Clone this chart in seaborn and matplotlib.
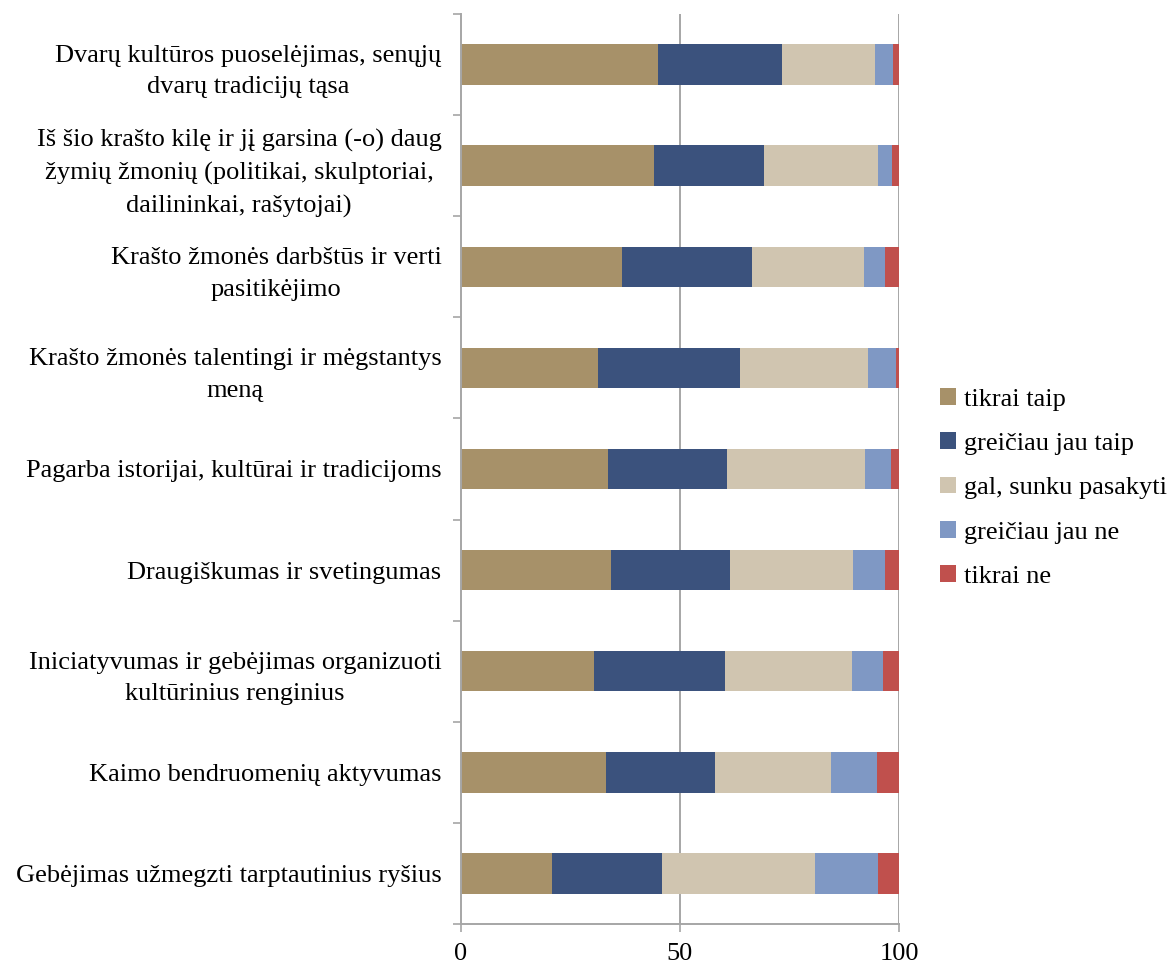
import matplotlib
matplotlib.use("Agg")
import matplotlib.pyplot as plt
from matplotlib.patches import Patch
from matplotlib.ticker import FixedLocator
import numpy as np
import pandas as pd
import seaborn as sns

categories = [
    "Dvarų kultūros puoselėjimas, senųjų\ndvarų tradicijų tąsa",
    "Iš šio krašto kilę ir jį garsina (-o) daug\nžymių žmonių (politikai, skulptoriai,\ndailininkai, rašytojai)",
    "Krašto žmonės darbštūs ir verti\npasitikėjimo",
    "Krašto žmonės talentingi ir mėgstantys\nmeną",
    "Pagarba istorijai, kultūrai ir tradicijoms",
    "Draugiškumas ir svetingumas",
    "Iniciatyvumas ir gebėjimas organizuoti\nkultūrinius renginius",
    "Kaimo bendruomenių aktyvumas",
    "Gebėjimas užmegzti tarptautinius ryšius",
]
series_names = ["tikrai taip", "greičiau jau taip", "gal, sunku pasakyti",
                "greičiau jau ne", "tikrai ne"]
tikrai_taip = [45.0, 44.1, 36.8, 31.3, 33.6, 34.2, 30.4, 33.1, 20.7]
greiciau_taip = [28.2, 25.0, 29.7, 32.3, 27.1, 27.3, 29.9, 24.9, 25.3]
gal = [21.4, 26.2, 25.5, 29.3, 31.6, 28.1, 29.0, 26.4, 34.9]
greiciau_ne = [4.1, 3.2, 4.9, 6.4, 5.9, 7.1, 7.1, 10.6, 14.4]
tikrai_ne = [1.3, 1.5, 3.1, 0.7, 1.8, 3.3, 3.6, 5.2, 4.9]
colors = ["#A79169", "#3B527D", "#D0C5B0", "#7F98C4", "#C0504D"]
x_ticks = [0, 50, 100]

sns.set_theme(style="white")
plt.rcParams["font.family"] = ["Liberation Serif", "DejaVu Serif"]
FS = 19

df = pd.DataFrame(
    {name: vals for name, vals in zip(series_names,
     [tikrai_taip, greiciau_taip, gal, greiciau_ne, tikrai_ne])},
    index=categories,
)
cum = df.cumsum(axis=1)

fig = plt.figure(figsize=(11.69, 9.67), dpi=100)
ax = fig.add_axes([461 / 1169, 1 - 924 / 967, 438 / 1169, 910 / 967])

# vertical gridlines behind the bars
for v in x_ticks[1:]:
    ax.axvline(v, color="#A6A6A6", lw=1.4, zorder=0)

# stacked bars: draw cumulative totals from the outermost segment inwards
for name, color in reversed(list(zip(series_names, colors))):
    plot_df = pd.DataFrame({"category": categories, "value": cum[name].values})
    sns.barplot(data=plot_df, x="value", y="category", order=categories,
                orient="h", color=color, saturation=1, width=0.4,
                linewidth=0, ax=ax, zorder=2)

ax.set_xlim(0, 100)
ax.set_ylim(len(categories) - 0.5, -0.5)
ax.set_xlabel("")
ax.set_ylabel("")
ax.set_xticks(x_ticks)
ax.set_xticklabels([str(t) for t in x_ticks], fontsize=FS)

ax.tick_params(axis="y", which="major", length=0, pad=14, labelsize=FS,
               labelcolor="black")
ax.yaxis.set_minor_locator(FixedLocator(np.arange(-0.5, len(categories), 1.0)))
ax.tick_params(axis="y", which="minor", length=6, width=1.2, color="#A6A6A6",
               direction="out", left=True)
ax.tick_params(axis="x", length=6, width=1.2, color="#A6A6A6", direction="out",
               bottom=True, pad=8, labelcolor="black")
for lab in ax.get_yticklabels():
    lab.set_multialignment("center")
    lab.set_linespacing(1.55)

for side in ["top", "right"]:
    ax.spines[side].set_visible(False)
for side in ["left", "bottom"]:
    ax.spines[side].set_color("#A6A6A6")
    ax.spines[side].set_linewidth(1.4)

handles = [Patch(facecolor=c, edgecolor="none", label=n)
           for n, c in zip(series_names, colors)]
fig.legend(handles=handles, loc="center left",
           bbox_to_anchor=(916 / 1169, 1 - 488 / 967), frameon=False,
           fontsize=FS, handlelength=0.6, handleheight=0.6,
           handletextpad=0.3, labelspacing=0.82, labelcolor="black")

fig.savefig("out.png", dpi=100)
